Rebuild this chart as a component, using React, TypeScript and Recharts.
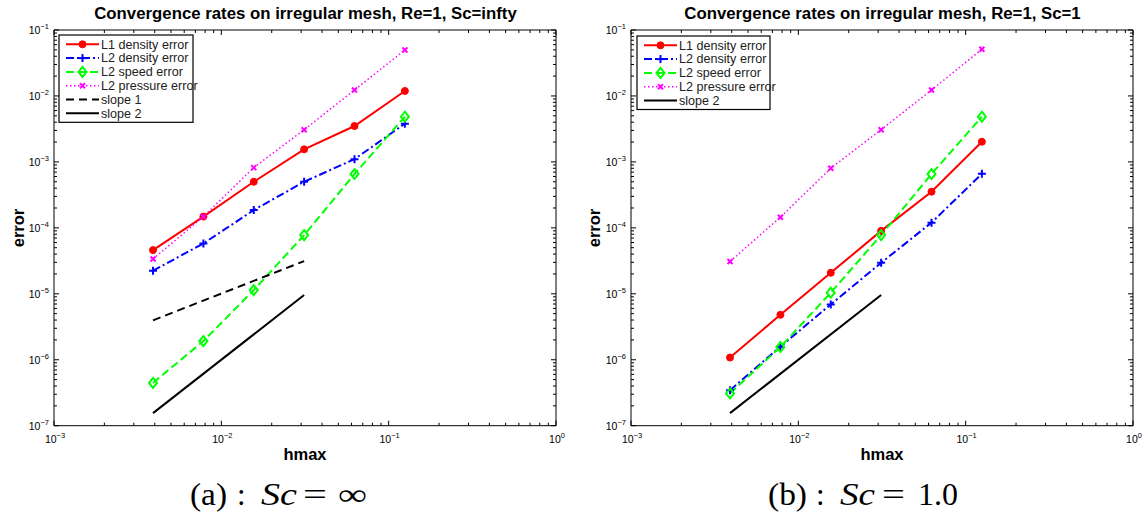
import React from 'react';
import { LineChart, Line, XAxis, YAxis } from 'recharts';

// ---------- data ----------
const hmax = [0.00390625, 0.0078125, 0.015625, 0.03125, 0.0625, 0.125];
const slopeX = [0.00390625, 0.03125];

const aL1Density = [4.6e-5, 1.48e-4, 5.0e-4, 1.55e-3, 3.5e-3, 1.19e-2];
const aL2Density = [2.24e-5, 5.8e-5, 1.86e-4, 5.0e-4, 1.1e-3, 3.8e-3];
const aL2Speed = [4.46e-7, 1.92e-6, 1.14e-5, 7.76e-5, 6.55e-4, 4.84e-3];
const aL2Pressure = [3.37e-5, 1.48e-4, 8.2e-4, 3.08e-3, 1.23e-2, 4.97e-2];
const aSlope1 = [3.96e-6, 3.13e-5];
const aSlope2 = [1.55e-7, 9.6e-6];

const bL1Density = [1.08e-6, 4.8e-6, 2.08e-5, 9.0e-5, 3.53e-4, 2.02e-3];
const bL2Density = [3.46e-7, 1.58e-6, 6.9e-6, 2.95e-5, 1.2e-4, 6.6e-4];
const bL2Speed = [3.09e-7, 1.56e-6, 1.04e-5, 7.76e-5, 6.55e-4, 4.84e-3];
const bL2Pressure = [3.09e-5, 1.45e-4, 8.0e-4, 3.08e-3, 1.23e-2, 5.1e-2];
const bSlope2 = [1.55e-7, 9.6e-6];

const xMajor = [1e-3, 1e-2, 1e-1, 1];
const yMajor = [1e-7, 1e-6, 1e-5, 1e-4, 1e-3, 1e-2, 1e-1];
const minorMult = [2, 3, 4, 5, 6, 7, 8, 9];

const titleA = 'Convergence rates on irregular mesh, Re=1, Sc=infty';
const titleB = 'Convergence rates on irregular mesh, Re=1, Sc=1';
const xLabel = 'hmax';
const yLabel = 'error';

// ---------- helpers ----------
const buildTicks = (major: number[]) => {
  const out: number[] = [];
  major.forEach((m, i) => {
    out.push(m);
    if (i < major.length - 1) minorMult.forEach((k) => out.push(parseFloat((m * k).toPrecision(6))));
  });
  return out.sort((a, b) => a - b);
};
const xTicks = buildTicks(xMajor);
const yTicks = buildTicks(yMajor);

type Marker = 'circle' | 'plus' | 'diamond' | 'cross' | 'none';
interface Series {
  name: string;
  color: string;
  dash?: string;
  width: number;
  marker: Marker;
  xs: number[];
  ys: number[];
}

const L1 = { name: 'L1 density error', color: '#ff0000', width: 2, marker: 'circle' as Marker };
const L2D = { name: 'L2 density error', color: '#0000ff', width: 2, dash: '8 3 2 3', marker: 'plus' as Marker };
const L2S = { name: 'L2 speed error', color: '#00ff00', width: 2, dash: '8 4', marker: 'diamond' as Marker };
const L2P = { name: 'L2 pressure error', color: '#ff00ff', width: 1.5, dash: '1.5 2.5', marker: 'cross' as Marker };
const S1 = { name: 'slope 1', color: '#000000', width: 2, dash: '8 5', marker: 'none' as Marker };
const S2 = { name: 'slope 2', color: '#000000', width: 2, marker: 'none' as Marker };

const seriesA: Series[] = [
  { ...L1, xs: hmax, ys: aL1Density },
  { ...L2D, xs: hmax, ys: aL2Density },
  { ...L2S, xs: hmax, ys: aL2Speed },
  { ...L2P, xs: hmax, ys: aL2Pressure },
  { ...S1, xs: slopeX, ys: aSlope1 },
  { ...S2, xs: slopeX, ys: aSlope2 },
];
const seriesB: Series[] = [
  { ...L1, xs: hmax, ys: bL1Density },
  { ...L2D, xs: hmax, ys: bL2Density },
  { ...L2S, xs: hmax, ys: bL2Speed },
  { ...L2P, xs: hmax, ys: bL2Pressure },
  { ...S2, xs: slopeX, ys: bSlope2 },
];

const FONT = '"Liberation Sans", Arial, Helvetica, sans-serif';
const SERIF = '"Liberation Serif", "Times New Roman", serif';

function MarkerShape({ kind, color, cx, cy }: { kind: Marker; color: string; cx: number; cy: number }) {
  switch (kind) {
    case 'circle':
      return <circle cx={cx} cy={cy} r={3.5} fill={color} stroke={color} strokeWidth={1} />;
    case 'plus':
      return (
        <g stroke={color} strokeWidth={2}>
          <line x1={cx - 4} x2={cx + 4} y1={cy} y2={cy} />
          <line x1={cx} x2={cx} y1={cy - 4} y2={cy + 4} />
        </g>
      );
    case 'diamond':
      return (
        <polygon
          points={`${cx},${cy - 5} ${cx + 4},${cy} ${cx},${cy + 5} ${cx - 4},${cy}`}
          fill="none"
          stroke={color}
          strokeWidth={2}
        />
      );
    case 'cross':
      return (
        <g stroke={color} strokeWidth={2}>
          <line x1={cx - 2.5} x2={cx + 2.5} y1={cy - 2.5} y2={cy + 2.5} />
          <line x1={cx - 2.5} x2={cx + 2.5} y1={cy + 2.5} y2={cy - 2.5} />
        </g>
      );
    default:
      return null;
  }
}

const makeDot = (kind: Marker, color: string) => (props: any) => {
  const { cx, cy, index } = props;
  if (kind === 'none' || cx == null || cy == null) return <g key={`d${index}`} />;
  return (
    <g key={`d${index}`}>
      <MarkerShape kind={kind} color={color} cx={cx} cy={cy} />
    </g>
  );
};

const isMajor = (v: number) => Math.abs(Math.log10(v) - Math.round(Math.log10(v))) < 1e-6;
const expText = (v: number) => {
  const e = Math.round(Math.log10(v));
  return e < 0 ? `\u2212${-e}` : `${e}`;
};

const makeTick = (side: 'bottom' | 'top' | 'left' | 'right') => (props: any) => {
  const { x, y, payload } = props;
  const v = payload.value;
  const major = isMajor(v);
  const len = major ? 5 : 3;
  let line: React.ReactNode = null;
  let label: React.ReactNode = null;
  if (side === 'bottom') line = <line x1={x} x2={x} y1={y} y2={y - len} stroke="#000" />;
  if (side === 'top') line = <line x1={x} x2={x} y1={y} y2={y + len} stroke="#000" />;
  if (side === 'left') line = <line x1={x} x2={x + len} y1={y} y2={y} stroke="#000" />;
  if (side === 'right') line = <line x1={x} x2={x - len} y1={y} y2={y} stroke="#000" />;
  if (major && side === 'bottom')
    label = (
      <text x={x + 1} y={y + 17.5} textAnchor="middle" fontSize={10.5} fontFamily={FONT} fill="#000">
        10
        <tspan dy={-5} fontSize={7.5}>
          {expText(v)}
        </tspan>
      </text>
    );
  if (major && side === 'left')
    label = (
      <text x={x - 5} y={y + 4} textAnchor="end" fontSize={10.5} fontFamily={FONT} fill="#000">
        10
        <tspan dy={-5} fontSize={7.5}>
          {expText(v)}
        </tspan>
      </text>
    );
  return (
    <g>
      {line}
      {label}
    </g>
  );
};

const CH = 470;

function Panel({ left, width, series }: { left: number; width: number; series: Series[] }) {
  // plot area: x 54 .. 556 (relative), y 30 .. 425.7 ; each axis takes 1px
  return (
    <div style={{ position: 'absolute', left, top: 0, width, height: CH }}>
      <LineChart width={width} height={CH} margin={{ top: 29, left: 53, right: width - 54 - 502 - 1, bottom: 43.3 }}>
        <XAxis
          dataKey="x"
          type="number"
          scale="log"
          domain={[1e-3, 1]}
          allowDataOverflow
          ticks={xTicks}
          interval={0}
          height={1}
          tickSize={0}
          tickMargin={0}
          tickLine={false}
          axisLine={{ stroke: '#000' }}
          tick={makeTick('bottom')}
        />
        <XAxis
          xAxisId="top"
          orientation="top"
          dataKey="x"
          type="number"
          scale="log"
          domain={[1e-3, 1]}
          allowDataOverflow
          ticks={xTicks}
          interval={0}
          height={1}
          tickSize={0}
          tickMargin={0}
          tickLine={false}
          axisLine={{ stroke: '#000' }}
          tick={makeTick('top')}
        />
        <YAxis
          type="number"
          scale="log"
          domain={[1e-7, 1e-1]}
          allowDataOverflow
          ticks={yTicks}
          interval={0}
          width={1}
          tickSize={0}
          tickMargin={0}
          tickLine={false}
          axisLine={{ stroke: '#000' }}
          tick={makeTick('left')}
        />
        <YAxis
          yAxisId="right"
          orientation="right"
          type="number"
          scale="log"
          domain={[1e-7, 1e-1]}
          allowDataOverflow
          ticks={yTicks}
          interval={0}
          width={1}
          tickSize={0}
          tickMargin={0}
          tickLine={false}
          axisLine={{ stroke: '#000' }}
          tick={makeTick('right')}
        />
        {series.map((s) => (
          <Line
            key={s.name}
            name={s.name}
            data={s.xs.map((x, i) => ({ x, y: s.ys[i] }))}
            dataKey="y"
            stroke={s.color}
            strokeWidth={s.width}
            strokeDasharray={s.dash}
            dot={makeDot(s.marker, s.color)}
            activeDot={false}
            isAnimationActive={false}
            type="linear"
          />
        ))}
      </LineChart>
    </div>
  );
}

function LegendBox({ x, y, w, series }: { x: number; y: number; w: number; series: Series[] }) {
  const rowH = 13.8;
  const h = series.length * rowH + 4.5;
  return (
    <g>
      <rect x={x} y={y} width={w} height={h} fill="#fff" stroke="#000" strokeWidth={1.2} />
      {series.map((s, i) => {
        const ry = y + 9.3 + i * rowH;
        return (
          <g key={s.name}>
            <line
              x1={x + 7}
              x2={x + 40}
              y1={ry}
              y2={ry}
              stroke={s.color}
              strokeWidth={s.width}
              strokeDasharray={s.dash}
            />
            <MarkerShape kind={s.marker} color={s.color} cx={x + 23.5} cy={ry} />
            <text x={x + 42} y={ry + 4.3} fontSize={12.6} fontFamily={FONT} fill="#222">
              {s.name}
            </text>
          </g>
        );
      })}
    </g>
  );
}

export default function App() {
  return (
    <div style={{ position: 'absolute', left: 0, top: 0, width: 1147, height: 518, background: '#fff' }}>
      <Panel left={0} width={577} series={seriesA} />
      <Panel left={577} width={570} series={seriesB} />
      <svg
        width={1147}
        height={518}
        style={{ position: 'absolute', left: 0, top: 0, pointerEvents: 'none' }}
      >
        <LegendBox x={59} y={35} w={134} series={seriesA} />
        <LegendBox x={637} y={36} w={133} series={seriesB} />

        <text x={305.5} y={19.3} textAnchor="middle" fontSize={16.8} fontWeight="bold" fontFamily={FONT}>
          {titleA}
        </text>
        <text x={882.5} y={19.3} textAnchor="middle" fontSize={16.8} fontWeight="bold" fontFamily={FONT}>
          {titleB}
        </text>

        <text x={305} y={460} textAnchor="middle" fontSize={16.5} fontWeight="bold" fontFamily={FONT}>
          {xLabel}
        </text>
        <text x={882} y={460} textAnchor="middle" fontSize={16.5} fontWeight="bold" fontFamily={FONT}>
          {xLabel}
        </text>
        <text
          x={0}
          y={0}
          transform="translate(24,228) rotate(-90)"
          textAnchor="middle"
          fontSize={16.5}
          fontWeight="bold"
          fontFamily={FONT}
        >
          {yLabel}
        </text>
        <text
          x={0}
          y={0}
          transform="translate(600,228) rotate(-90)"
          textAnchor="middle"
          fontSize={16.5}
          fontWeight="bold"
          fontFamily={FONT}
        >
          {yLabel}
        </text>

        <g fontFamily={SERIF} fontSize={31} fill="#000">
          <text x={190} y={505} textLength={37} lengthAdjust="spacingAndGlyphs">(a)</text>
          <text x={237} y={505}>:</text>
          <text x={261} y={505} fontStyle="italic" textLength={36} lengthAdjust="spacingAndGlyphs">Sc</text>
          <text x={303} y={505} textLength={24} lengthAdjust="spacingAndGlyphs">=</text>
          <text x={338} y={505} textLength={29} lengthAdjust="spacingAndGlyphs">∞</text>

          <text x={768} y={505} textLength={39} lengthAdjust="spacingAndGlyphs">(b)</text>
          <text x={816} y={505}>:</text>
          <text x={840} y={505} fontStyle="italic" textLength={35} lengthAdjust="spacingAndGlyphs">Sc</text>
          <text x={882} y={505} textLength={23} lengthAdjust="spacingAndGlyphs">=</text>
          <text x={918} y={505} textLength={40} lengthAdjust="spacingAndGlyphs">1.0</text>
        </g>
      </svg>
    </div>
  );
}
